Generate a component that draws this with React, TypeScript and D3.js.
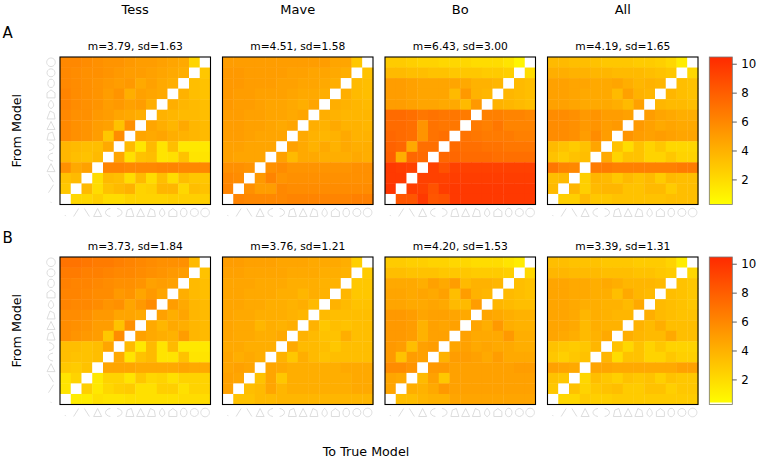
import React from "react";
import * as d3 from "d3";

// ---------- data ----------
const N = null;
const modelIndex = [0, 1, 2, 3, 4, 5, 6, 7, 8, 9, 10, 11, 12, 13];
const panelNames = ["Tess", "Mave", "Bo", "All"];
const rowLabels = ["A", "B"];
const meansA = ["3.79", "4.51", "6.43", "4.19"];
const sdsA = ["1.63", "1.58", "3.00", "1.65"];
const meansB = ["3.73", "3.76", "4.20", "3.39"];
const sdsB = ["1.84", "1.21", "1.53", "1.31"];
const colorTicks = [2, 4, 6, 8, 10];

// each matrix: rows listed from "From Model" 13 (top) down to 0 (bottom); columns "To True Model" 0..13
const tessA = [
  [6.0, 6.0, 5.8, 5.6, 5.4, 5.4, 5.2, 5.0, 5.0, 4.8, 4.6, 4.4, 2.3, N],
  [6.0, 5.8, 5.6, 5.6, 5.4, 5.2, 5.0, 5.0, 4.8, 4.6, 4.4, 4.2, N, 3.0],
  [6.0, 5.8, 5.6, 5.4, 5.2, 5.0, 5.2, 4.4, 4.8, 4.4, 4.2, N, 3.4, 3.2],
  [6.2, 5.8, 5.6, 5.4, 5.0, 5.4, 4.2, 4.8, 4.6, 4.4, N, 4.0, 3.4, 3.2],
  [6.2, 5.8, 5.6, 5.4, 5.0, 5.2, 4.8, 5.0, 4.2, N, 4.2, 3.8, 3.6, 3.4],
  [6.0, 5.6, 5.6, 5.2, 5.0, 4.6, 4.4, 4.2, N, 4.0, 3.8, 3.6, 3.6, 3.4],
  [6.0, 5.6, 5.4, 5.0, 4.8, 3.2, 5.6, N, 4.6, 4.2, 3.8, 4.4, 3.8, 3.6],
  [6.0, 5.6, 5.4, 5.0, 3.0, 5.8, N, 4.6, 4.4, 4.6, 4.2, 4.0, 3.8, 3.6],
  [3.8, 3.6, 3.4, 3.4, 4.4, N, 3.6, 1.5, 3.6, 1.6, 3.4, 1.4, 1.4, 1.4],
  [3.8, 3.4, 3.2, 3.6, N, 4.6, 1.8, 3.2, 3.4, 1.6, 1.8, 3.2, 1.6, 1.6],
  [5.6, 4.4, 4.8, N, 6.2, 6.2, 6.0, 6.0, 6.0, 6.2, 6.2, 6.0, 6.0, 6.0],
  [3.2, 3.6, N, 2.0, 3.6, 3.4, 2.0, 3.6, 2.0, 3.4, 2.0, 3.4, 3.0, 3.0],
  [3.0, N, 3.6, 2.0, 3.2, 3.6, 4.0, 2.4, 2.6, 3.8, 3.8, 2.2, 3.4, 3.2],
  [N, 2.2, 2.2, 2.6, 2.0, 2.0, 2.4, 2.4, 2.4, 2.4, 2.6, 2.6, 2.6, 2.6],
];
const maveA = [
  [5.0, 5.0, 5.0, 5.0, 5.0, 5.0, 5.0, 5.0, 5.0, 5.0, 4.6, 4.6, 3.0, N],
  [5.2, 5.2, 5.0, 5.0, 5.0, 5.0, 4.8, 4.8, 4.6, 4.6, 4.4, 4.2, N, 3.2],
  [5.2, 5.2, 5.0, 5.0, 5.0, 4.8, 4.8, 4.6, 4.6, 4.4, 4.2, N, 3.6, 3.4],
  [5.2, 5.0, 5.0, 4.8, 4.8, 4.8, 4.6, 4.4, 4.4, 4.2, N, 4.2, 3.6, 3.4],
  [5.2, 5.0, 5.0, 4.8, 4.6, 4.6, 4.4, 4.2, 4.6, N, 4.2, 4.0, 3.8, 3.6],
  [5.0, 5.0, 4.8, 4.8, 4.6, 4.6, 4.4, 4.6, N, 4.2, 4.0, 3.8, 3.8, 3.8],
  [5.0, 5.0, 4.8, 4.8, 4.6, 4.4, 4.6, N, 4.2, 4.0, 4.4, 4.0, 4.0, 3.8],
  [5.0, 5.0, 4.8, 4.6, 4.6, 4.6, N, 4.4, 4.0, 3.8, 4.0, 4.4, 4.0, 4.0],
  [4.8, 4.8, 4.6, 4.6, 4.6, N, 4.8, 4.4, 4.0, 4.4, 4.0, 4.4, 4.2, 4.2],
  [4.8, 4.6, 4.6, 4.6, N, 4.8, 3.6, 4.4, 4.4, 4.2, 4.2, 4.2, 4.4, 4.2],
  [5.6, 5.6, 5.4, N, 5.6, 5.8, 5.4, 5.4, 5.4, 5.4, 5.4, 5.4, 5.6, 5.6],
  [6.0, 5.8, N, 5.2, 6.2, 5.4, 5.6, 5.6, 5.6, 5.6, 5.6, 5.6, 5.6, 5.6],
  [6.2, N, 5.6, 5.0, 5.0, 6.0, 5.8, 5.8, 5.8, 5.8, 5.8, 5.8, 5.8, 5.8],
  [N, 6.2, 6.0, 6.0, 6.0, 6.0, 6.2, 6.2, 6.2, 6.2, 6.2, 6.2, 6.4, 6.4],
];
const boA = [
  [2.8, 2.8, 2.6, 2.4, 2.4, 2.2, 2.2, 2.2, 2.0, 2.0, 2.0, 1.6, 0.8, N],
  [3.6, 3.6, 3.4, 3.4, 3.2, 3.2, 3.0, 3.0, 3.0, 2.8, 2.8, 2.6, N, 2.0],
  [5.0, 5.0, 4.8, 4.6, 4.6, 4.6, 4.6, 4.4, 4.0, 4.0, 3.8, N, 3.6, 3.4],
  [5.0, 5.0, 4.8, 4.6, 4.6, 4.6, 3.6, 5.2, 4.0, 3.8, N, 3.8, 3.6, 3.4],
  [5.0, 5.0, 4.8, 4.6, 4.6, 4.4, 4.4, 3.6, 5.2, N, 4.0, 3.8, 3.6, 3.4],
  [7.4, 7.4, 7.2, 6.8, 7.0, 6.8, 6.8, 6.6, N, 6.4, 6.4, 6.2, 6.2, 6.0],
  [7.4, 7.4, 7.2, 5.4, 7.0, 6.8, 6.8, N, 6.6, 6.4, 6.8, 6.2, 6.2, 6.2],
  [7.6, 7.4, 7.2, 5.4, 7.0, 7.2, N, 7.0, 6.8, 6.6, 6.6, 6.6, 6.4, 6.4],
  [7.8, 7.6, 4.4, 7.2, 7.2, N, 7.4, 7.2, 7.2, 7.0, 7.0, 6.8, 6.8, 6.8],
  [8.0, 4.2, 7.6, 7.4, N, 7.6, 7.6, 7.4, 7.4, 7.4, 7.2, 7.2, 7.2, 7.2],
  [9.8, 9.6, 9.4, N, 9.4, 8.6, 9.4, 9.4, 9.4, 9.4, 9.4, 9.4, 9.4, 9.4],
  [9.8, 9.8, N, 9.4, 9.4, 9.4, 9.6, 9.6, 9.6, 9.6, 9.6, 9.6, 9.6, 9.6],
  [10.0, N, 9.6, 9.4, 8.6, 9.6, 9.8, 9.8, 9.8, 9.8, 9.8, 9.8, 9.8, 9.8],
  [N, 8.4, 8.4, 9.8, 8.4, 8.6, 9.8, 9.8, 9.8, 9.8, 9.8, 9.8, 9.8, 9.8],
];
const allA = [
  [3.6, 3.6, 3.4, 3.4, 3.2, 3.0, 3.0, 3.0, 2.8, 2.8, 2.6, 2.2, 1.2, N],
  [4.2, 4.2, 4.0, 4.0, 3.8, 3.8, 3.6, 3.6, 3.6, 3.4, 3.2, 3.0, N, 2.2],
  [4.8, 4.8, 4.6, 4.6, 4.4, 4.4, 4.6, 4.2, 3.8, 4.0, 3.8, N, 3.4, 3.2],
  [4.8, 4.8, 4.6, 4.4, 4.4, 4.4, 3.6, 4.8, 4.0, 3.8, N, 3.8, 3.4, 3.2],
  [4.8, 4.8, 4.6, 4.4, 4.4, 4.4, 4.2, 3.6, 4.8, N, 3.8, 3.6, 3.6, 3.4],
  [5.8, 5.8, 5.6, 5.2, 5.4, 5.0, 5.0, 4.8, N, 5.0, 4.6, 4.4, 4.2, 4.2],
  [5.8, 5.8, 5.6, 5.2, 5.4, 5.0, 5.2, N, 5.2, 4.8, 4.4, 4.6, 4.4, 4.4],
  [5.8, 5.8, 5.6, 5.0, 5.8, 5.0, N, 5.4, 5.0, 4.8, 5.0, 4.8, 4.6, 4.6],
  [3.6, 3.2, 2.8, 3.2, 4.6, N, 3.2, 2.0, 3.2, 2.4, 3.0, 2.2, 2.2, 2.2],
  [3.2, 2.8, 3.2, 3.4, N, 4.4, 2.4, 3.2, 3.2, 2.4, 2.4, 3.0, 2.4, 2.4],
  [6.8, 6.2, 6.0, N, 6.6, 6.6, 6.4, 6.4, 6.4, 6.4, 6.4, 6.4, 6.6, 6.6],
  [3.4, 3.6, N, 2.6, 3.8, 3.6, 3.0, 3.6, 3.2, 3.6, 2.8, 3.6, 3.4, 3.4],
  [3.6, N, 3.8, 2.6, 3.6, 3.8, 3.8, 3.2, 3.2, 3.6, 3.6, 2.8, 3.4, 3.4],
  [N, 2.6, 2.6, 3.6, 3.0, 3.0, 3.2, 3.2, 3.2, 3.2, 3.2, 3.4, 3.4, 3.4],
];
const tessB = [
  [7.0, 7.0, 6.8, 6.6, 6.6, 6.4, 6.2, 6.0, 5.8, 5.6, 5.6, 5.6, 3.6, N],
  [6.6, 6.6, 6.4, 6.4, 6.2, 6.0, 6.0, 5.8, 5.6, 5.4, 5.2, 5.0, N, 3.2],
  [6.4, 6.2, 6.2, 6.0, 5.8, 5.6, 5.6, 5.4, 4.8, 5.0, 4.8, N, 3.6, 3.4],
  [6.2, 6.2, 6.0, 5.8, 5.8, 5.2, 5.4, 4.6, 5.2, 4.6, N, 4.2, 3.6, 3.4],
  [6.2, 6.0, 6.0, 5.8, 5.4, 5.6, 4.6, 5.2, 5.8, N, 5.0, 4.4, 3.8, 3.6],
  [5.8, 5.8, 5.6, 5.2, 5.2, 4.6, 4.6, 4.4, N, 4.8, 4.2, 4.6, 3.8, 3.6],
  [5.8, 5.6, 5.4, 5.0, 5.0, 3.2, 5.6, N, 4.4, 3.8, 4.4, 4.2, 3.8, 3.6],
  [5.8, 5.4, 5.2, 5.0, 3.0, 5.8, N, 4.8, 4.4, 4.2, 4.0, 5.0, 3.8, 3.6],
  [3.4, 3.4, 3.2, 3.4, 4.6, N, 3.6, 1.4, 3.6, 1.6, 3.6, 1.4, 1.4, 1.4],
  [3.4, 3.2, 3.2, 3.4, N, 4.4, 1.6, 3.2, 3.6, 1.6, 1.6, 3.2, 1.6, 1.6],
  [3.0, 2.8, 3.2, N, 4.6, 4.6, 4.6, 4.4, 4.4, 4.4, 4.4, 4.6, 4.4, 4.4],
  [1.6, 2.4, N, 1.4, 2.4, 2.4, 1.6, 3.0, 2.2, 2.4, 1.8, 2.4, 2.4, 2.4],
  [1.6, N, 2.6, 1.4, 2.2, 2.6, 2.8, 1.8, 1.8, 2.6, 2.6, 1.8, 2.4, 2.4],
  [N, 1.2, 1.2, 1.8, 1.6, 1.6, 1.8, 1.8, 1.8, 1.8, 1.8, 2.0, 2.0, 2.0],
];
const maveB = [
  [5.0, 5.0, 4.8, 4.8, 4.8, 4.6, 4.6, 4.6, 4.4, 4.4, 4.4, 4.2, 2.6, N],
  [4.8, 4.8, 4.6, 4.6, 4.6, 4.6, 4.4, 4.4, 4.4, 4.2, 4.2, 4.0, N, 2.8],
  [4.6, 4.6, 4.6, 4.4, 4.4, 4.4, 4.2, 4.2, 4.2, 4.0, 4.0, N, 3.0, 3.0],
  [4.6, 4.6, 4.4, 4.4, 4.4, 4.2, 4.2, 3.8, 4.2, 4.0, N, 3.8, 3.0, 3.0],
  [4.6, 4.6, 4.4, 4.4, 4.2, 4.2, 4.0, 4.2, 3.6, N, 4.0, 3.6, 3.2, 3.2],
  [4.6, 4.4, 4.4, 4.2, 4.2, 4.2, 4.0, 3.8, N, 3.6, 3.4, 3.4, 3.4, 3.4],
  [4.6, 4.4, 4.4, 3.8, 4.2, 4.0, 4.2, N, 4.0, 3.0, 3.4, 3.2, 3.4, 3.4],
  [4.6, 4.4, 4.4, 4.2, 4.2, 4.4, N, 4.0, 3.6, 3.2, 3.2, 4.2, 3.4, 3.4],
  [4.4, 4.4, 4.2, 4.2, 4.2, N, 4.4, 3.6, 3.6, 3.4, 3.0, 3.4, 3.4, 3.4],
  [4.6, 4.2, 4.4, 4.2, N, 4.0, 3.0, 4.2, 3.6, 3.2, 3.4, 3.4, 3.4, 3.4],
  [4.6, 4.8, 4.6, N, 4.6, 4.4, 4.2, 4.2, 4.2, 4.2, 4.2, 4.4, 4.4, 4.4],
  [4.8, 4.6, N, 3.2, 4.6, 3.0, 4.2, 4.2, 4.2, 4.2, 4.2, 4.2, 4.4, 4.4],
  [4.8, N, 3.4, 3.6, 4.6, 3.8, 4.2, 4.2, 4.2, 4.2, 4.2, 4.2, 4.4, 4.4],
  [N, 3.2, 3.2, 3.6, 3.6, 3.8, 3.8, 3.8, 3.8, 3.8, 3.8, 3.8, 3.8, 3.8],
];
const boB = [
  [2.8, 2.8, 2.6, 2.6, 2.4, 2.4, 2.2, 2.2, 2.0, 2.0, 2.0, 1.6, 1.2, N],
  [3.4, 3.4, 3.2, 3.2, 3.2, 3.0, 3.0, 3.0, 2.8, 2.8, 2.8, 2.6, N, 2.2],
  [4.4, 4.4, 4.4, 4.2, 4.8, 4.4, 5.0, 3.6, 4.0, 4.0, 3.8, N, 3.4, 3.2],
  [4.6, 4.6, 4.4, 4.6, 4.4, 4.8, 3.4, 5.0, 4.0, 3.8, N, 3.6, 3.4, 3.2],
  [4.6, 4.6, 4.4, 4.4, 4.6, 4.4, 3.6, 3.6, 5.0, N, 3.8, 3.6, 3.4, 3.4],
  [5.2, 5.2, 5.0, 4.6, 4.8, 4.8, 4.6, 4.4, N, 4.6, 4.4, 4.2, 4.0, 4.0],
  [5.2, 5.2, 5.0, 4.0, 4.8, 4.6, 4.8, N, 4.6, 4.2, 5.2, 4.2, 4.0, 4.0],
  [5.2, 5.2, 5.0, 4.0, 4.8, 4.8, N, 4.8, 4.4, 4.4, 4.4, 5.2, 4.2, 4.2],
  [5.2, 5.0, 3.4, 4.8, 5.0, N, 4.6, 4.8, 4.4, 4.6, 4.4, 4.4, 4.2, 4.2],
  [5.2, 3.2, 5.0, 4.8, N, 4.0, 5.0, 5.0, 4.8, 4.4, 5.0, 4.4, 4.4, 4.4],
  [5.8, 5.8, 5.4, N, 5.2, 5.2, 4.8, 4.8, 4.8, 4.8, 4.8, 4.8, 5.0, 5.0],
  [4.6, 4.4, N, 3.6, 4.8, 3.0, 4.8, 4.8, 4.8, 4.8, 4.8, 4.8, 4.8, 4.8],
  [4.6, N, 4.2, 4.0, 4.4, 5.2, 4.8, 4.8, 4.8, 4.8, 4.8, 4.8, 4.8, 4.8],
  [N, 3.4, 3.4, 3.8, 4.0, 4.0, 4.6, 4.6, 4.6, 4.6, 4.6, 4.6, 4.6, 4.6],
];
const allB = [
  [3.4, 3.4, 3.2, 3.2, 3.2, 3.0, 3.0, 3.0, 2.8, 2.8, 2.8, 2.4, 1.2, N],
  [3.8, 3.8, 3.6, 3.6, 3.6, 3.4, 3.4, 3.4, 3.2, 3.2, 3.0, 2.8, N, 2.2],
  [4.6, 4.6, 4.4, 4.4, 4.2, 4.4, 4.2, 3.8, 3.8, 3.8, 3.6, N, 3.2, 3.0],
  [4.6, 4.6, 4.4, 4.4, 4.2, 4.2, 3.4, 4.4, 3.8, 3.6, N, 3.4, 3.2, 3.0],
  [4.6, 4.6, 4.4, 4.2, 4.2, 4.0, 4.0, 3.6, 4.4, N, 3.6, 3.4, 3.2, 3.0],
  [4.6, 4.6, 4.4, 3.8, 4.2, 4.0, 3.8, 3.8, N, 4.2, 3.6, 3.4, 3.2, 3.2],
  [4.6, 4.6, 4.4, 3.6, 4.2, 4.0, 4.0, N, 4.0, 3.6, 4.2, 3.4, 3.4, 3.4],
  [4.6, 4.4, 4.2, 3.6, 4.0, 4.4, N, 4.2, 3.8, 3.6, 3.6, 4.4, 3.4, 3.4],
  [3.2, 3.0, 2.8, 3.0, 3.8, N, 3.2, 2.2, 3.2, 2.4, 3.0, 2.4, 2.4, 2.4],
  [3.0, 2.6, 3.0, 3.2, N, 3.8, 2.0, 3.2, 3.2, 2.4, 2.4, 3.0, 2.6, 2.6],
  [4.8, 4.6, 4.4, N, 4.6, 4.6, 4.4, 4.4, 4.4, 4.4, 4.4, 4.4, 4.8, 4.8],
  [3.2, 3.0, N, 2.2, 3.4, 3.0, 2.6, 3.2, 3.0, 3.2, 2.6, 3.2, 3.0, 3.0],
  [3.0, N, 3.2, 2.4, 3.0, 3.2, 3.4, 2.8, 2.8, 3.2, 3.2, 2.6, 3.0, 3.0],
  [N, 2.2, 2.2, 2.8, 2.6, 2.6, 2.8, 2.8, 2.8, 2.8, 2.8, 2.8, 2.8, 2.8],
];

const matricesA = [tessA, maveA, boA, allA];
const matricesB = [tessB, maveB, boB, allB];

// ---------- layout ----------
const FONT = "DejaVu Sans";
const panelLeft = [60, 222.5, 385, 547.5];
const panelW = 150.5;
const rowTop = [57, 257];
const panelH = 147.5;
const cbX = 709.3;
const cbW = 23;
const colorDomain = [0.3, 10.5];

const color = d3
  .scaleLinear<string>()
  .domain(colorDomain)
  .range(["#ffff00", "#ff2a00"])
  .interpolate(d3.interpolateRgb)
  .clamp(true);

// glyph shapes for the 14 models (light grey axis icons)
const glyphs: string[] = [
  "M-0.4,2.6 L0.4,3.6",
  "M-2.5,4 L2.5,-4",
  "M-2.5,-4 L2.5,4",
  "M0,-4 L4,4 L-4,4 Z",
  "M2,4 C-4.5,3 -4.5,-3 2,-4",
  "M-2,4 C4.5,3 4.5,-3 -2,-4",
  "M-4,4 L-2.5,-2.5 L1.5,-4 L4,4 Z",
  "M-4,4 L0,-4 L4,4 Z",
  "M-4,4 L-1,-4 L3,-2 L4,4 Z",
  "M0,-4.2 C3,-1 4,2 0,4.2 C-4,2 -3,-1 0,-4.2 Z",
  "M-4,4 L-4,-1 L0,-4 L4,-1 L4,4 Z",
  "M0,-4.2 C4.5,-4.2 4.5,4.2 0,4.2 C-4.5,4.2 -4,-4.2 0,-4.2 Z",
  "M0,-4 A4,4 0 1,1 -0.01,-4 Z",
  "M0,-4.3 A4.3,4.3 0 1,1 -0.01,-4.3 Z",
];

function Heatmap({ x0, y0, matrix }: { x0: number; y0: number; matrix: (number | null)[][] }) {
  const xs = d3.scaleBand<number>().domain(modelIndex).range([x0, x0 + panelW]);
  const ys = d3
    .scaleBand<number>()
    .domain([...modelIndex].reverse())
    .range([y0, y0 + panelH]);
  const cells: React.ReactNode[] = [];
  matrix.forEach((row, r) => {
    const fromModel = 13 - r;
    row.forEach((v, c) => {
      cells.push(
        <rect
          key={`${r}-${c}`}
          x={xs(c)!}
          y={ys(fromModel)!}
          width={xs.bandwidth() + 0.4}
          height={ys.bandwidth() + 0.4}
          fill={v == null ? "#ffffff" : color(v)}
        />
      );
    });
  });
  return (
    <g>
      <rect x={x0} y={y0} width={panelW} height={panelH} fill="#fff" />
      {cells}
      <rect x={x0} y={y0} width={panelW} height={panelH} fill="none" stroke="#000" strokeWidth={1.1} />
      {modelIndex.map((m) => (
        <path
          key={`bx${m}`}
          d={glyphs[m]}
          transform={`translate(${xs(m)! + xs.bandwidth() / 2},${y0 + panelH + 8})`}
          fill="none"
          stroke="#d9d9d9"
          strokeWidth={0.9}
        />
      ))}
    </g>
  );
}

function LeftGlyphs({ x, y0 }: { x: number; y0: number }) {
  const ys = d3
    .scaleBand<number>()
    .domain([...modelIndex].reverse())
    .range([y0, y0 + panelH]);
  return (
    <g>
      {modelIndex.map((m) => (
        <path
          key={`ly${m}`}
          d={glyphs[m]}
          transform={`translate(${x},${ys(m)! + ys.bandwidth() / 2})`}
          fill="none"
          stroke="#d9d9d9"
          strokeWidth={0.9}
        />
      ))}
    </g>
  );
}

function ColorBar({ y0, gid, whiteBase }: { y0: number; gid: string; whiteBase: boolean }) {
  const ys = d3.scaleLinear().domain(colorDomain).range([y0 + panelH, y0]);
  const stops = d3.range(0, 1.0001, 0.1);
  return (
    <g>
      <defs>
        <linearGradient id={gid} x1="0" y1="1" x2="0" y2="0">
          {stops.map((t) => (
            <stop
              key={t}
              offset={`${t * 100}%`}
              stopColor={color(colorDomain[0] + t * (colorDomain[1] - colorDomain[0]))}
            />
          ))}
        </linearGradient>
      </defs>
      <rect x={cbX} y={y0} width={cbW} height={panelH} fill={`url(#${gid})`} />
      {whiteBase && <rect x={cbX} y={y0 + panelH - 2} width={cbW} height={2} fill="#fffff0" />}
      <rect x={cbX} y={y0} width={cbW} height={panelH} fill="none" stroke="#777" strokeWidth={0.8} />
      {colorTicks.map((t) => (
        <g key={t}>
          <line x1={cbX + cbW} x2={cbX + cbW + 4.5} y1={ys(t)} y2={ys(t)} stroke="#333" strokeWidth={0.8} />
          <text x={cbX + cbW + 9} y={ys(t) + 4.2} fontFamily={FONT} fontSize={11.8} fill="#000">
            {t}
          </text>
        </g>
      ))}
    </g>
  );
}

export default function App() {
  return (
    <svg
      width={760}
      height={460}
      style={{ position: "absolute", left: 0, top: 0, background: "#fff" }}
    >
      <rect x={0} y={0} width={760} height={460} fill="#fff" />
      {panelNames.map((name, i) => (
        <text
          key={name}
          x={panelLeft[i] + panelW / 2}
          y={13.5}
          textAnchor="middle"
          fontFamily={FONT}
          fontSize={13}
        >
          {name}
        </text>
      ))}
      {rowLabels.map((lab, ri) => (
        <text key={lab} x={2.5} y={ri === 0 ? 38 : 243} fontFamily={FONT} fontSize={15}>
          {lab}
        </text>
      ))}
      {[0, 1].map((ri) => (
        <text
          key={`fm${ri}`}
          transform={`translate(21,${rowTop[ri] + panelH / 2}) rotate(-90)`}
          textAnchor="middle"
          fontFamily={FONT}
          fontSize={12.7}
        >
          From Model
        </text>
      ))}
      <text x={366} y={456} textAnchor="middle" fontFamily={FONT} fontSize={12.7}>
        To True Model
      </text>
      {[0, 1].map((ri) => {
        const mats = ri === 0 ? matricesA : matricesB;
        const ms = ri === 0 ? meansA : meansB;
        const ss = ri === 0 ? sdsA : sdsB;
        return (
          <g key={`row${ri}`}>
            <LeftGlyphs x={51} y0={rowTop[ri]} />
            {mats.map((m, i) => (
              <g key={`p${ri}-${i}`}>
                <text
                  x={panelLeft[i] + panelW / 2}
                  y={rowTop[ri] - 7.5}
                  textAnchor="middle"
                  fontFamily={FONT}
                  fontSize={10.7}
                >
                  {`m=${ms[i]}, sd=${ss[i]}`}
                </text>
                <Heatmap x0={panelLeft[i]} y0={rowTop[ri]} matrix={m} />
              </g>
            ))}
            <ColorBar y0={rowTop[ri]} gid={`cb${ri}`} whiteBase={ri === 1} />
          </g>
        );
      })}
    </svg>
  );
}
